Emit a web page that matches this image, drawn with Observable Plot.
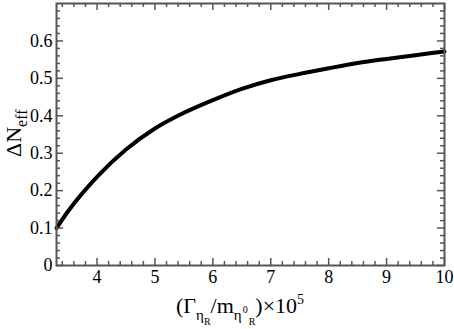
<!DOCTYPE html>
<html>
<head>
<meta charset="utf-8">
<script src="https://cdn.jsdelivr.net/npm/d3@7"></script>
<script src="https://cdn.jsdelivr.net/npm/@observablehq/plot@0.6"></script>
<style>
  html, body { margin: 0; padding: 0; background: #fff; }
  #chart { width: 454px; height: 329px; }
  #chart svg text { font-family: "Liberation Serif", "Times New Roman", serif !important; }
</style>
</head>
<body>
<div id="chart"></div>
<script>
// Data
const gammaRatio = [3.3, 3.5, 4.0, 4.5, 5.0, 5.5, 6.0, 6.5, 7.0, 7.5, 8.0, 8.5, 9.0, 9.5, 10.0];
const deltaNeff  = [0.100, 0.145, 0.237, 0.310, 0.366, 0.408, 0.442, 0.472, 0.495, 0.512, 0.527, 0.541, 0.552, 0.562, 0.572];

// Tick values
const xMajor = [4, 5, 6, 7, 8, 9, 10];
const yMajor = [0, 0.1, 0.2, 0.3, 0.4, 0.5, 0.6];
const xMinor = d3.range(34, 101, 2).map(v => v / 10).filter(v => !Number.isInteger(v));
const yMinor = d3.range(0, 70, 2).map(v => v / 100).filter(v => Math.round(v * 100) % 10 !== 0);

const data = gammaRatio.map((x, i) => ({x, y: deltaNeff[i]}));

const W = 454, H = 329;
const mL = 56, mR = 10, mT = 3, mB = 64;
const iW = W - mL - mR, iH = H - mT - mB;
const majorLen = 7, minorLen = 4;
const tickColor = "#555";
const serif = "Liberation Serif, Times New Roman, serif";

const svg = Plot.plot({
  width: W,
  height: H,
  marginLeft: mL,
  marginRight: mR,
  marginTop: mT,
  marginBottom: mB,
  style: {fontFamily: serif, fontSize: "18px", background: "#fff", color: "#000"},
  x: {domain: [3.3, 10]},
  y: {domain: [0, 0.7]},
  marks: [
    Plot.line(data, {x: "x", y: "y", stroke: "#000", strokeWidth: 4, curve: "monotone-x"}),
    // inward ticks: bottom & top
    Plot.tickX(xMajor, {x: d => d, insetTop: iH - majorLen, stroke: tickColor, strokeWidth: 1.5}),
    Plot.tickX(xMajor, {x: d => d, insetBottom: iH - majorLen, stroke: tickColor, strokeWidth: 1.5}),
    Plot.tickX(xMinor, {x: d => d, insetTop: iH - minorLen, stroke: tickColor, strokeWidth: 1.5}),
    Plot.tickX(xMinor, {x: d => d, insetBottom: iH - minorLen, stroke: tickColor, strokeWidth: 1.5}),
    // inward ticks: left & right
    Plot.tickY(yMajor, {y: d => d, insetRight: iW - majorLen, stroke: tickColor, strokeWidth: 1.5}),
    Plot.tickY(yMajor, {y: d => d, insetLeft: iW - majorLen, stroke: tickColor, strokeWidth: 1.5}),
    Plot.tickY(yMinor, {y: d => d, insetRight: iW - minorLen, stroke: tickColor, strokeWidth: 1.5}),
    Plot.tickY(yMinor, {y: d => d, insetLeft: iW - minorLen, stroke: tickColor, strokeWidth: 1.5}),
    Plot.frame({stroke: tickColor, strokeWidth: 2}),
    Plot.axisX(xMajor, {tickSize: 0, tickPadding: 5, label: null, fontSize: 18, fontFamily: serif}),
    Plot.axisY(yMajor, {tickSize: 0, tickPadding: 4, label: null, fontSize: 18, fontFamily: serif,
      tickFormat: d => d === 0 ? "0" : d.toFixed(1)})
  ]
});

const s = d3.select(svg);
s.attr("font-family", serif);
// x-axis title
const xt = s.append("text")
  .attr("x", 176).attr("y", 313)
  .attr("text-anchor", "start")
  .attr("font-size", 22)
  .attr("fill", "#000");
xt.append("tspan").text("(\u0393");
xt.append("tspan").attr("font-size", 15).attr("dy", 7).text("\u03B7");
xt.append("tspan").attr("font-size", 10).attr("dy", 5).text("R");
xt.append("tspan").attr("font-size", 22).attr("dy", -12).text("/m");
xt.append("tspan").attr("font-size", 15).attr("dy", 7).text("\u03B7");
xt.append("tspan").attr("font-size", 10).attr("dy", -7).attr("dx", 1).text("0");
xt.append("tspan").attr("font-size", 10).attr("dy", 12).attr("dx", 1).text("R");
xt.append("tspan").attr("font-size", 22).attr("dy", -12).text(")\u00D710");
xt.append("tspan").attr("font-size", 14).attr("dy", -9).text("5");

// y-axis title
const yt = s.append("text")
  .attr("transform", "translate(21,157) rotate(-90)")
  .attr("text-anchor", "start")
  .attr("font-size", 22)
  .attr("fill", "#000");
yt.append("tspan").text("\u0394N");
yt.append("tspan").attr("font-size", 16).attr("dy", 6).text("eff");

s.selectAll("text").attr("font-family", serif).style("font-family", serif);

document.getElementById("chart").appendChild(svg);
</script>
</body>
</html>
